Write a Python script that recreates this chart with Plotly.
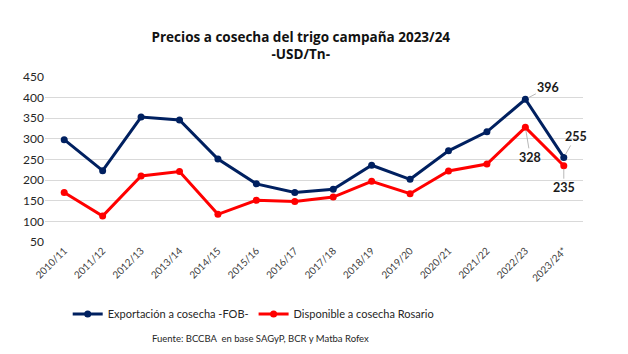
import plotly.graph_objects as go

campanas = ["2010/11", "2011/12", "2012/13", "2013/14", "2014/15", "2015/16", "2016/17",
            "2017/18", "2018/19", "2019/20", "2020/21", "2021/22", "2022/23", "2023/24*"]
fob = [298, 223, 353, 346, 251, 191, 170, 178, 236, 202, 271, 317, 396, 255]
rosario = [170, 113, 210, 221, 117, 151, 148, 159, 197, 167, 222, 239, 328, 235]

NAVY = "#002060"
RED = "#FF0000"
FONT = "Lato, 'Open Sans', Arial, sans-serif"

fig = go.Figure()
fig.add_trace(go.Scatter(x=campanas, y=fob, mode="lines+markers",
                         name="Exportación a cosecha -FOB-",
                         line=dict(color=NAVY, width=3), marker=dict(size=7, color=NAVY)))
fig.add_trace(go.Scatter(x=campanas, y=rosario, mode="lines+markers",
                         name="Disponible a cosecha Rosario",
                         line=dict(color=RED, width=3), marker=dict(size=7, color=RED)))

labels = [
    (campanas[12], fob[12], 23, -12),
    (campanas[13], fob[13], 12, -21),
    (campanas[12], rosario[12], 5, 30),
    (campanas[13], rosario[13], 0, 22),
]
for x, y, ax, ay in labels:
    fig.add_annotation(x=x, y=y, text=f"<b>{y}</b>", showarrow=True, arrowhead=0,
                       arrowwidth=0.8, arrowcolor="#A6A6A6", ax=ax, ay=ay, standoff=3,
                       font=dict(size=12.5, color="#1a1a1a", family=FONT))

fig.add_annotation(text="Fuente: BCCBA  en base SAGyP, BCR y Matba Rofex",
                   xref="paper", yref="paper", x=0.401, y=-0.585, showarrow=False,
                   xanchor="center", yanchor="middle",
                   font=dict(size=9.5, color="#262626", family=FONT))

fig.update_layout(
    width=628, height=354,
    margin=dict(l=45, r=45, t=77, b=112),
    paper_bgcolor="white", plot_bgcolor="white",
    font=dict(family=FONT, color="#404040"),
    title=dict(text="<b>Precios a cosecha del trigo campaña 2023/24<br>-USD/Tn-</b>",
               x=0.479, xanchor="center", y=1 - 41.5 / 354, yanchor="middle",
               yref="container",
               font=dict(size=13.5, color="#111111", family="'Open Sans', Arial, sans-serif")),
    showlegend=True,
    legend=dict(orientation="h", x=0.387, xanchor="center", y=-0.436, yanchor="middle",
                font=dict(size=11, color="#262626", family=FONT),
                itemwidth=30, tracegroupgap=0, bgcolor="rgba(0,0,0,0)"),
    xaxis=dict(type="category", tickangle=-45, showgrid=False, showline=False,
               ticks="", tickfont=dict(size=10, color="#404040"), range=[-0.5, 13.5]),
    yaxis=dict(range=[50, 450], dtick=50, tick0=50, showgrid=True, gridcolor="#D9D9D9",
               gridwidth=1, zeroline=False, showline=False, ticks="",
               tickfont=dict(size=12, color="#262626")),
)

fig.write_html("out.html")
